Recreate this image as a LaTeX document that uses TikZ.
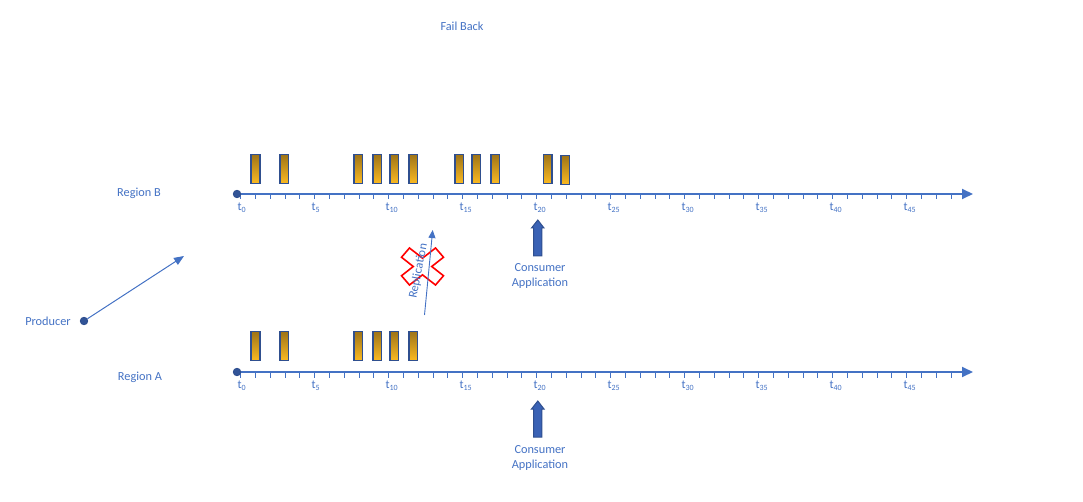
\documentclass[tikz,border=0pt]{standalone}
\usepackage{fontspec}
\setmainfont{Carlito}
\usetikzlibrary{arrows.meta}
\definecolor{ob}{HTML}{4472C4}
\definecolor{db}{HTML}{2F4F8F}
\definecolor{cb}{HTML}{3A62B5}
\definecolor{goldtop}{HTML}{9E7418}
\definecolor{goldbot}{HTML}{FBBA22}
\tikzset{
  lbl/.style={text=ob, font=\fontsize{12.3}{15}\selectfont, inner sep=0},
  tl/.style={text=ob, font=\fontsize{12}{14}\selectfont, anchor=north west, inner sep=0},
  msg/.style={draw=db, line width=1.8pt, minimum width=8.5pt, minimum height=29pt, inner sep=0, top color=goldtop, bottom color=goldbot},
  dot/.style={circle, draw=db, fill=db!85!ob, line width=0.8pt, minimum size=7.5pt, inner sep=0},
  axis/.style={ob, line width=1.8pt, -{Triangle[length=11pt,width=10pt]}},
  tick/.style={ob, line width=0.9pt},
  thin arrow/.style={ob, line width=1pt, -{Triangle[length=10pt,width=8pt]}},
  blockarrow/.style={draw=db, fill=cb, line width=1pt},
}
\begin{document}
\begin{tikzpicture}[x=1pt,y=-1pt]
\useasboundingbox (0,0) rectangle (1083,502);

% titles
\node[lbl] (fb) at (462,26) {Fail Back};
\node[lbl] (rb) at (139,193) {Region B};
\node[lbl] (ra) at (140,377) {Region A};
\node[lbl] (pl) at (48,321) {Producer};

% timelines
\coordinate (Bend) at (973,194);
\coordinate (Aend) at (973,372);
\coordinate (Bst) at (237,194);
\coordinate (Ast) at (237,372);
\draw[axis] (Bst) -- (Bend);
\draw[axis] (Ast) -- (Aend);
\foreach \k in {0,...,48}{
  \draw[tick] ({240.7+14.8*\k},194) -- ++(0,5.5);
  \draw[tick] ({240.7+14.8*\k},372) -- ++(0,5.5);
}
\foreach \k in {0,5,...,45}{
  \node[tl] at ({237.4+14.8*\k},203) {t\textsubscript{\k}};
  \node[tl] at ({237.4+14.8*\k},381) {t\textsubscript{\k}};
}
\node[dot] (dB) at (Bst) {};
\node[dot] (dA) at (Ast) {};

% messages region B
\foreach \x [count=\i] in {255.5,284.3,358.3,377.3,394.3,413.3,459.3,476.3,495.3,547.7}
  \node[msg] (mb\i) at (\x,169) {};
\node[msg] (mb11) at (565.3,170) {};
% messages region A
\foreach \x [count=\i] in {255.5,284.3,358.3,377.3,394.3,413.3}
  \node[msg] (ma\i) at (\x,346) {};

% producer
\node[dot] (prod) at (84,321) {};
\coordinate (ptip) at (184,256);
\draw[thin arrow] (prod) -- (ptip);

% consumer arrows
\draw[blockarrow] (533.7,256) -- (533.7,228) -- (531.5,228) -- (537.8,220) -- (544,228) -- (541.8,228) -- (541.8,256) -- cycle;
\node[lbl, align=center] (cB) at (540,276.5) {Consumer\\Application};
\draw[blockarrow] (533.7,437) -- (533.7,409) -- (531.5,409) -- (537.8,401) -- (544,409) -- (541.8,409) -- (541.8,437) -- cycle;
\node[lbl, align=center] (cA) at (540,457.5) {Consumer\\Application};

% red X
\begin{scope}[shift={(422.5,266.5)}, xscale=21, yscale=18.5]
\draw[red, line width=1.6pt] (0,-0.45) -- (0.62,-1) -- (1,-0.5) -- (0.44,0) -- (1,0.5) -- (0.62,1) -- (0,0.45) -- (-0.62,1) -- (-1,0.5) -- (-0.44,0) -- (-1,-0.5) -- (-0.62,-1) -- cycle;
\end{scope}

% replication
\coordinate (r1) at (424.5,315);
\coordinate (r2) at (432.7,230);
\draw[ob, line width=0.9pt, -{Triangle[length=8pt,width=7pt]}] (r1) -- (r2);
\node[lbl, rotate=79] (rep) at (418.5,271) {Replication};

\end{tikzpicture}
\end{document}
